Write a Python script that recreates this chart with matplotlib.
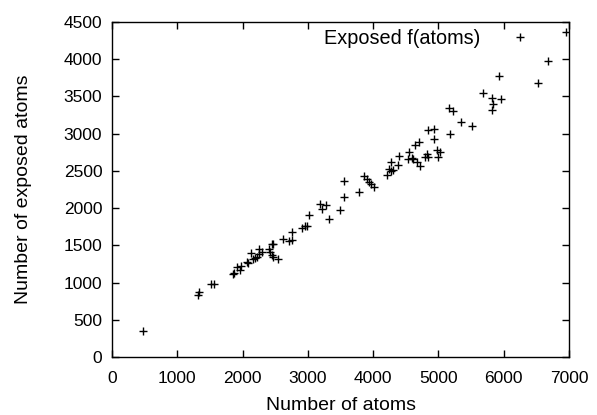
import matplotlib
matplotlib.use("Agg")
import matplotlib.pyplot as plt

plt.rcParams['font.family'] = ['Liberation Sans', 'DejaVu Sans']

atoms = [470, 1312, 1337, 1516, 1567, 1858, 1864, 1910, 1960, 1981, 2068, 2083,
         2134, 2160, 2190, 2226, 2247, 2256, 2292, 2405, 2420, 2455, 2466, 2450,
         2466, 2538, 2624, 2716, 2752, 2762, 2905, 2951, 2991, 3022, 3181, 3216,
         3273, 3319, 3492, 3558, 3553, 3783, 3865, 3901, 3941, 3967, 4013, 4217,
         4243, 4278, 4309, 4278, 4380, 4396, 4534, 4590, 4610, 4554, 4641, 4702,
         4676, 4717, 4799, 4825, 4840, 4840, 4927, 4927, 4983, 5024, 4998, 5166,
         5223, 5182, 5350, 5514, 5687, 5824, 5840, 5820, 5958, 5932, 6520, 6683,
         6958]
exposed = [353, 833, 869, 976, 976, 1111, 1124, 1213, 1164, 1222, 1276, 1258,
           1397, 1320, 1325, 1347, 1383, 1450, 1410, 1450, 1406, 1518, 1522, 1366,
           1347, 1316, 1585, 1562, 1571, 1675, 1737, 1763, 1755, 1907, 2059, 1983,
           2041, 1857, 1974, 2153, 2368, 2216, 2435, 2391, 2354, 2327, 2283, 2440,
           2521, 2502, 2507, 2615, 2583, 2704, 2663, 2677, 2663, 2749, 2851, 2892,
           2615, 2569, 2686, 2726, 2690, 3053, 3058, 2928, 2776, 2749, 2686, 3344,
           3304, 2995, 3152, 3098, 3550, 3474, 3402, 3317, 3461, 3774, 3676, 3979,
           4361]

xticks = [0, 1000, 2000, 3000, 4000, 5000, 6000, 7000]
yticks = [0, 500, 1000, 1500, 2000, 2500, 3000, 3500, 4000, 4500]

fig = plt.figure(figsize=(5.97, 4.15), dpi=100)
ax = fig.add_axes([112/597, 1-357/415, 457/597, 335/415])

ax.plot(atoms, exposed, linestyle='none', marker='+', markersize=5.5,
        markeredgewidth=1, color='black', label='Exposed f(atoms)')

ax.set_xlim(0, 7000)
ax.set_ylim(0, 4500)
ax.set_xticks(xticks)
ax.set_yticks(yticks)
ax.tick_params(axis='both', direction='in', length=5, width=1, top=True, right=True,
               labelsize=12.5)
ax.tick_params(axis='x', pad=10)
ax.tick_params(axis='y', pad=7)
for s in ax.spines.values():
    s.set_linewidth(1)

ax.set_xlabel('Number of atoms', fontsize=14, labelpad=8)
ax.set_ylabel('Number of exposed atoms', fontsize=14, labelpad=23)

ax.legend(loc='center right', bbox_to_anchor=(0.9497, 0.952), frameon=False,
          markerfirst=False, handlelength=2.6, handletextpad=0.7,
          borderaxespad=0, borderpad=0, fontsize=14.3)

fig.savefig('out.png', dpi=100)
